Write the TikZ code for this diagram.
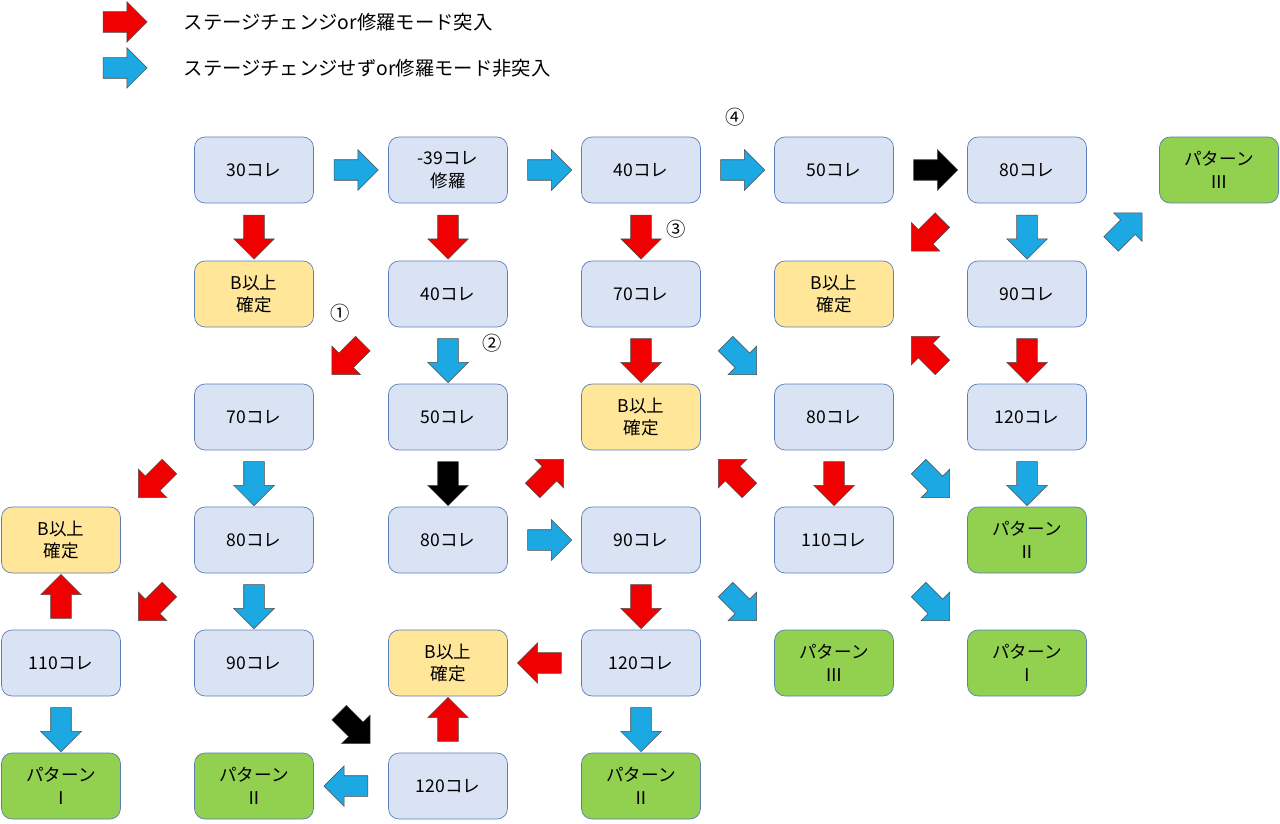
\documentclass[tikz,border=0pt]{standalone}
\usepackage{fontspec}
\setmainfont{Noto Sans CJK JP}
\usetikzlibrary{positioning, calc, shapes.arrows}

\definecolor{boxblue}{HTML}{DAE3F3}
\definecolor{boxline}{HTML}{5B7DB8}
\definecolor{boxyellow}{HTML}{FFE699}
\definecolor{boxgreen}{HTML}{92D050}
\definecolor{arrred}{HTML}{F00000}
\definecolor{arrblue}{HTML}{1CA8E3}

\tikzset{
  box/.style={draw=boxline, rounded corners=6pt, minimum width=2.38cm, minimum height=1.32cm,
    align=center, fill=boxblue, font=\fontsize{10}{13}\selectfont},
  sure/.style={box, fill=boxyellow},
  pat/.style={box, fill=boxgreen},
  blk/.style={single arrow, draw=black!70, fill=#1, minimum height=0.88cm, minimum width=0.8cm,
    single arrow head extend=0.2cm, inner sep=0.2cm, line width=0.3pt},
  num/.style={font=\fontsize{11}{13}\selectfont}
}
\newcommand{\arr}[4]{\node[blk=#1, rotate=#4] at ($(#2)!0.5!(#3)$) {};}

\begin{document}
\begin{tikzpicture}[x=0.02cm, y=-0.02cm]
        \useasboundingbox (0,0) rectangle (1280,824);

        % Legend
        \node[blk=arrred] (lr) at (120,22) {};
        \node[right=0.6cm of lr, font=\fontsize{11}{13}\selectfont] (lrt) {ステージチェンジor修羅モード突入};
        \node[blk=arrblue] (lb) at (120,68) {};
        \node[right=0.6cm of lb, font=\fontsize{11}{13}\selectfont] (lbt) {ステージチェンジせずor修羅モード非突入};

        % Boxes
        \node[box] (a1) at (254,170) {30コレ};
        \node[box] (a2) at (448,170) {-39コレ\\修羅};
        \node[box] (a3) at (641,170) {40コレ};
        \node[box] (a4) at (834,170) {50コレ};
        \node[box] (a5) at (1027,170) {80コレ};
        \node[pat] (a6) at (1219,170) {パターン\\Ⅲ};

        \node[sure] (b1) at (254,294) {B以上\\確定};
        \node[box] (b2) at (448,294) {40コレ};
        \node[box] (b3) at (641,294) {70コレ};
        \node[sure] (b4) at (834,294) {B以上\\確定};
        \node[box] (b5) at (1027,294) {90コレ};

        \node[box] (c1) at (254,417) {70コレ};
        \node[box] (c2) at (448,417) {50コレ};
        \node[sure] (c3) at (641,417) {B以上\\確定};
        \node[box] (c4) at (834,417) {80コレ};
        \node[box] (c5) at (1027,417) {120コレ};

        \node[sure] (d0) at (61,540) {B以上\\確定};
        \node[box] (d1) at (254,540) {80コレ};
        \node[box] (d2) at (448,540) {80コレ};
        \node[box] (d3) at (641,540) {90コレ};
        \node[box] (d4) at (834,540) {110コレ};
        \node[pat] (d5) at (1027,540) {パターン\\Ⅱ};

        \node[box] (e0) at (61,663) {110コレ};
        \node[box] (e1) at (254,663) {90コレ};
        \node[sure] (e2) at (448,663) {B以上\\確定};
        \node[box] (e3) at (641,663) {120コレ};
        \node[pat] (e4) at (834,663) {パターン\\Ⅲ};
        \node[pat] (e5) at (1027,663) {パターン\\Ⅰ};

        \node[pat] (f0) at (61,786) {パターン\\Ⅰ};
        \node[pat] (f1) at (254,786) {パターン\\Ⅱ};
        \node[box] (f2) at (448,786) {120コレ};
        \node[pat] (f3) at (641,786) {パターン\\Ⅱ};

        % Arrows
        \arr{arrblue}{a1}{a2}{0}
        \arr{arrblue}{a2}{a3}{0}
        \arr{arrblue}{a3}{a4}{0}
        \arr{black}{a4}{a5}{0}
        \arr{arrred}{a1}{b1}{-90}
        \arr{arrred}{a2}{b2}{-90}
        \arr{arrred}{a3}{b3}{-90}
        \arr{arrred}{a5}{b4}{-135}
        \arr{arrblue}{a5}{b5}{-90}
        \arr{arrblue}{b5}{a6}{45}
        \arr{arrred}{b2}{c1}{-135}
        \arr{arrblue}{b2}{c2}{-90}
        \arr{arrred}{b3}{c3}{-90}
        \arr{arrblue}{b3}{c4}{-45}
        \arr{arrred}{c5}{b4}{135}
        \arr{arrred}{b5}{c5}{-90}
        \arr{arrred}{c1}{d0}{-135}
        \arr{arrblue}{c1}{d1}{-90}
        \arr{black}{c2}{d2}{-90}
        \arr{arrred}{d2}{c3}{45}
        \arr{arrred}{d4}{c3}{135}
        \arr{arrred}{c4}{d4}{-90}
        \arr{arrblue}{c4}{d5}{-45}
        \arr{arrblue}{c5}{d5}{-90}
        \arr{arrblue}{d2}{d3}{0}
        \arr{arrred}{e0}{d0}{90}
        \arr{arrred}{d1}{e0}{-135}
        \arr{arrblue}{d1}{e1}{-90}
        \arr{arrred}{d3}{e3}{-90}
        \arr{arrblue}{d3}{e4}{-45}
        \arr{arrblue}{d4}{e5}{-45}
        \arr{arrred}{e3}{e2}{180}
        \arr{arrblue}{e0}{f0}{-90}
        \arr{black}{e1}{f2}{-45}
        \arr{arrred}{f2}{e2}{90}
        \arr{arrblue}{e3}{f3}{-90}
        \arr{arrblue}{f2}{f1}{180}

        % Step numbers
        \node[num] (n1) at (340,313) {①};
        \node[num] (n2) at (492,343) {②};
        \node[num] (n3) at (676,229) {③};
        \node[num] (n4) at (735,117) {④};
\end{tikzpicture}
\end{document}
